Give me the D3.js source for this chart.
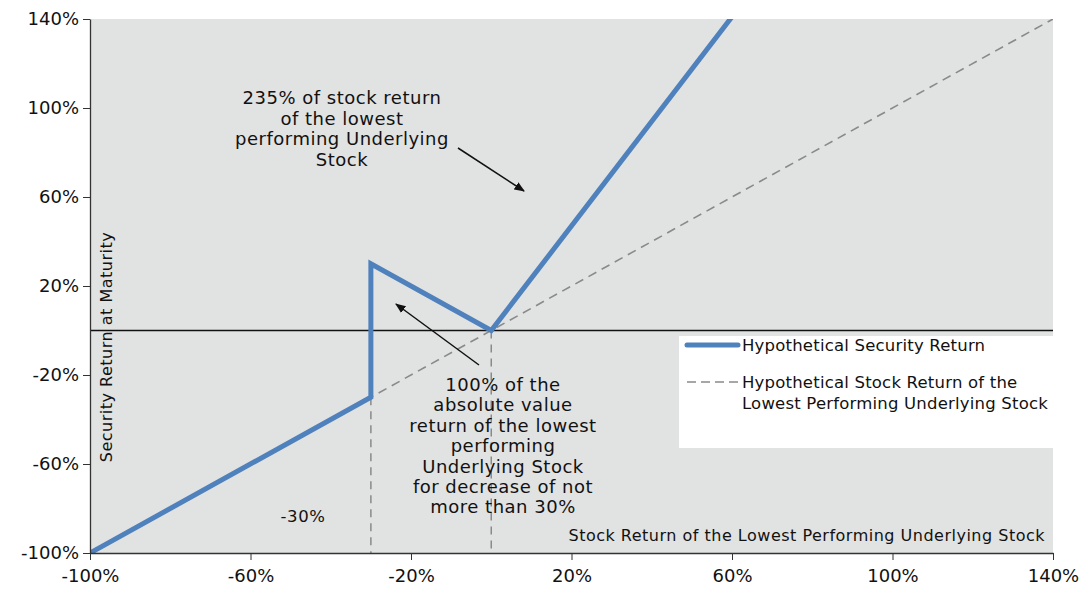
<!DOCTYPE html>
<html><head><meta charset="utf-8">
<script src="https://cdn.jsdelivr.net/npm/d3@7"></script>
<style>body{margin:0;background:#fff;} svg{display:block;font-family:"DejaVu Sans",Verdana,sans-serif;}</style>
</head><body>
<svg id="c" width="1086" height="591"></svg>
<script>
const xTicks = [-100,-60,-20,20,60,100,140];
const yTicks = [-100,-60,-20,20,60,100,140];
const securityX = [-100,-30,-30,0,60];
const securityY = [-100,-30,30,0,141];
const stockX = [-100,140];
const stockY = [-100,140];
const barrierX = [-30,0];
const barrierTopY = [-30,0];
const legendLabels = ["Hypothetical Security Return", "Hypothetical Stock Return of the", "Lowest Performing Underlying Stock"];
const note1 = ["235% of stock return","of the lowest","performing Underlying","Stock"];
const note2 = ["100% of the","absolute value","return of the lowest","performing","Underlying Stock","for decrease of not","more than 30%"];

const svg = d3.select("#c");
const m = {l:90, r:1053, t:19, b:553};
const x = d3.scaleLinear().domain([-100,140]).range([m.l,m.r]);
const y = d3.scaleLinear().domain([-100,140]).range([m.b,m.t]);

svg.append("rect").attr("x",m.l).attr("y",m.t).attr("width",m.r-m.l).attr("height",m.b-m.t).attr("fill","#e1e2e2");
const defs = svg.append("defs");
defs.append("clipPath").attr("id","clip").append("rect")
  .attr("x",m.l).attr("y",m.t).attr("width",m.r-m.l).attr("height",m.b-m.t);
defs.append("marker").attr("id","arr").attr("viewBox","0 0 10 10").attr("refX",9).attr("refY",5)
  .attr("markerWidth",7).attr("markerHeight",7).attr("orient","auto")
  .append("path").attr("d","M0,1 L10,5 L0,9 Z").attr("fill","#111");

// legend box
svg.append("rect").attr("x",679).attr("y",336).attr("width",m.r-679).attr("height",112).attr("fill","#fff");

// zero line
svg.append("line").attr("x1",m.l).attr("x2",m.r).attr("y1",y(0)).attr("y2",y(0)).attr("stroke","#111").attr("stroke-width",1.3);

const g = svg.append("g").attr("clip-path","url(#clip)");
barrierX.forEach((bx,i)=>{
  g.append("line").attr("x1",x(bx)).attr("x2",x(bx)).attr("y1",y(barrierTopY[i])).attr("y2",y(-100))
   .attr("stroke","#8a8a8a").attr("stroke-width",1.5).attr("stroke-dasharray","8,6");
});
const line = d3.line().x(d=>x(d[0])).y(d=>y(d[1]));
g.append("path").datum(stockX.map((v,i)=>[v,stockY[i]])).attr("d",line)
  .attr("fill","none").attr("stroke","#8a8a8a").attr("stroke-width",1.6).attr("stroke-dasharray","9,6");
g.append("path").datum(securityX.map((v,i)=>[v,securityY[i]])).attr("d",line)
  .attr("fill","none").attr("stroke","#4f81bd").attr("stroke-width",5).attr("stroke-linejoin","miter");

// axes
const ax = svg.append("g").attr("transform",`translate(0,${m.b})`)
  .call(d3.axisBottom(x).tickValues(xTicks).tickFormat(d=>d+"%").tickSize(7).tickSizeOuter(0));
const ay = svg.append("g").attr("transform",`translate(${m.l},0)`)
  .call(d3.axisLeft(y).tickValues(yTicks).tickFormat(d=>d+"%").tickSize(7).tickSizeOuter(0));
[ax,ay].forEach(a=>{
  a.select(".domain").attr("stroke","#333").attr("stroke-width",1.3);
  a.selectAll(".tick line").attr("stroke","#333");
  a.selectAll("text").attr("font-size",18).attr("fill","#111").attr("font-family","DejaVu Sans, Verdana, sans-serif");
});
ax.selectAll("text").attr("dy","1.05em");
ay.selectAll("text").attr("x",-11);

const T = (xx,yy,t,fs,ls,anchor)=>svg.append("text").attr("x",xx).attr("y",yy).attr("text-anchor",anchor||"middle")
  .attr("font-size",fs).attr("letter-spacing",ls).attr("fill","#111").text(t);

// axis titles
svg.append("text").attr("transform","translate(112,347) rotate(-90)").attr("text-anchor","middle")
  .attr("font-size",16).attr("letter-spacing",0.5).attr("fill","#111").text("Security Return at Maturity");
T(1045,541,"Stock Return of the Lowest Performing Underlying Stock",16,0.5,"end");
T(303,522,"-30%",16.5,0.6);

note1.forEach((t,i)=>T(342,104+i*20.7,t,18,0.5));
note2.forEach((t,i)=>T(503,391+i*20.4,t,18,0.5));
svg.append("line").attr("x1",458).attr("y1",148).attr("x2",524).attr("y2",191)
  .attr("stroke","#111").attr("stroke-width",1.5).attr("marker-end","url(#arr)");
svg.append("line").attr("x1",479).attr("y1",365).attr("x2",396).attr("y2",304)
  .attr("stroke","#111").attr("stroke-width",1.5).attr("marker-end","url(#arr)");

// legend
svg.append("line").attr("x1",687).attr("x2",738).attr("y1",345).attr("y2",345).attr("stroke","#4f81bd").attr("stroke-width",5).attr("stroke-linecap","round");
svg.append("line").attr("x1",687).attr("x2",738).attr("y1",382).attr("y2",382).attr("stroke","#8a8a8a").attr("stroke-width",1.5).attr("stroke-dasharray","9,5");
[[345,0],[382,1],[403,2]].forEach(([yy,i])=>T(742,yy+6,legendLabels[i],16.5,0.2,"start"));
</script>
</body></html>
